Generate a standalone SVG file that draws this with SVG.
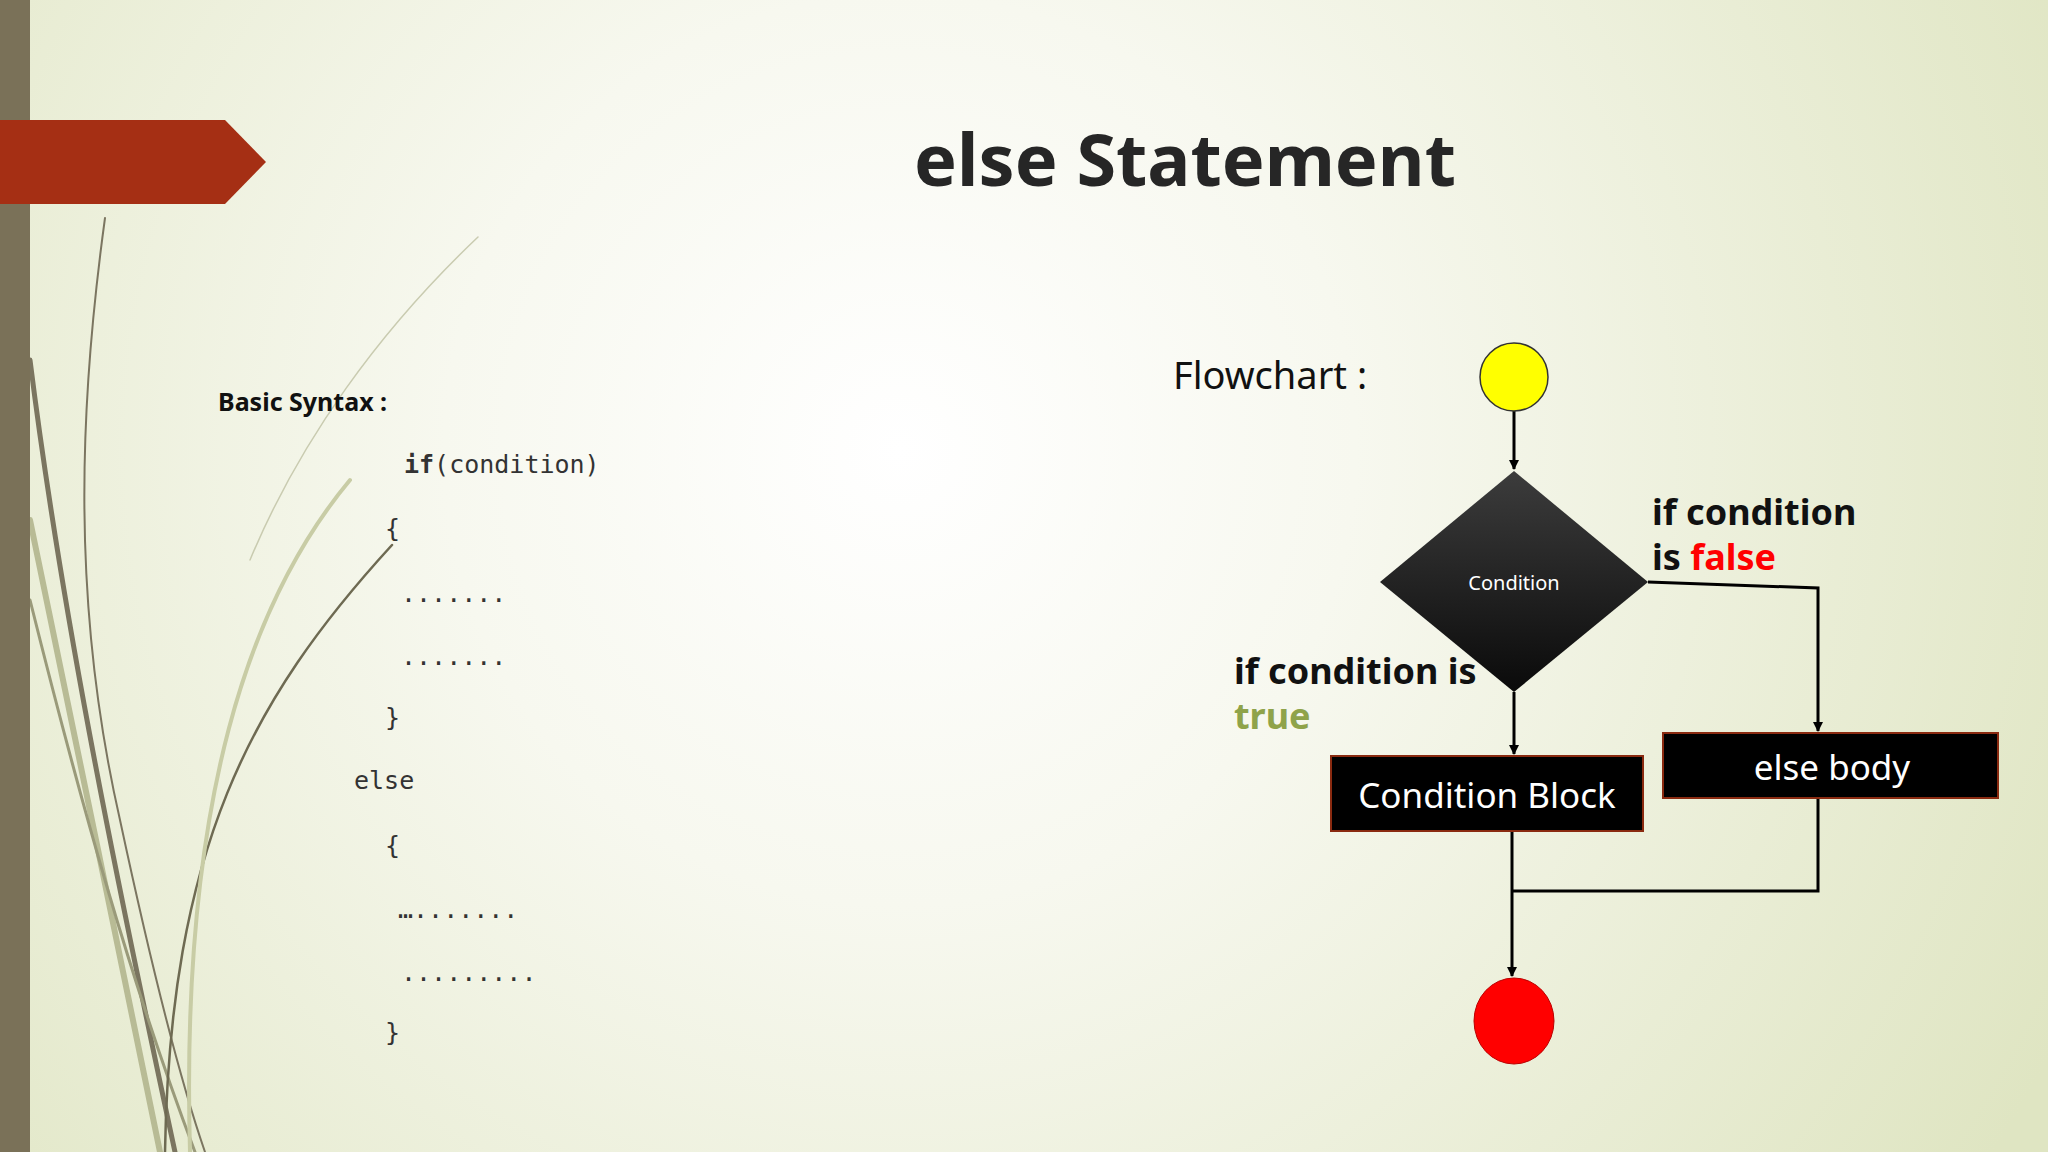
<svg xmlns="http://www.w3.org/2000/svg" width="2048" height="1152" viewBox="0 0 2048 1152">
<defs>
<radialGradient id="bg" cx="900" cy="450" r="1300" gradientUnits="userSpaceOnUse">
<stop offset="0" stop-color="#ffffff"/><stop offset="0.35" stop-color="#f7f8ef"/><stop offset="1" stop-color="#dfe5c2"/>
</radialGradient>
<linearGradient id="dia" x1="0" y1="0" x2="0" y2="1"><stop offset="0" stop-color="#3c3c3c"/><stop offset="1" stop-color="#0a0a0a"/></linearGradient>
<marker id="ah" markerWidth="10" markerHeight="10" refX="9" refY="5" orient="auto" markerUnits="userSpaceOnUse"><path d="M0,0 L10,5 L0,10 z" fill="#000"/></marker>
<style>
.code{font-family:"DejaVu Sans Mono","Liberation Mono",monospace;font-size:25px;fill:#333}
.lbl{font-family:"Noto Sans","Liberation Sans",sans-serif;font-weight:bold;font-size:36px;fill:#111}
.box{fill:#000;stroke:#8a2a10;stroke-width:2}
.bt{font-family:"Noto Sans","Liberation Sans",sans-serif;font-size:35px;fill:#fff;text-anchor:middle}
.ln{fill:none;stroke:#000;stroke-width:3}
.cv{fill:none;stroke-linecap:round}
</style>
</defs>
<rect width="2048" height="1152" fill="url(#bg)"/>
<g id="decor">
<path class="cv" d="M105,218 C80,400 70,600 120,820 C150,960 180,1080 205,1152" stroke="#7b7560" stroke-width="2"/>
<path class="cv" d="M30,360 C60,600 110,850 175,1152" stroke="#7b7560" stroke-width="5"/>
<path class="cv" d="M30,520 C70,720 120,950 160,1152" stroke="#b8bb95" stroke-width="6"/>
<path class="cv" d="M30,600 C80,800 130,980 195,1152" stroke="#9a9a7a" stroke-width="3"/>
<path class="cv" d="M478,237 C380,330 300,440 250,560" stroke="#c9cbb0" stroke-width="1.5"/>
<path class="cv" d="M392,545 C250,700 170,850 165,1152" stroke="#6e6a52" stroke-width="2.5"/>
<path class="cv" d="M350,480 C250,600 180,800 190,1152" stroke="#c8cca5" stroke-width="4"/>
</g>
<rect x="0" y="0" width="30" height="1152" fill="#7a7158"/>
<path d="M0,120 L225,120 L266,162 L225,204 L0,204 z" fill="#a52f14"/>
<text x="1185" y="186" text-anchor="middle" font-family="Noto Sans,Liberation Sans,sans-serif" font-weight="bold" font-size="72" fill="#262626">else Statement</text>
<text x="218" y="411" font-family="Noto Sans,Liberation Sans,sans-serif" font-weight="bold" font-size="25" fill="#111">Basic Syntax :</text>
<g id="code">
<text class="code" x="404" y="473"><tspan font-weight="bold">if</tspan>(condition)</text>
<text class="code" x="385" y="537">{</text>
<text class="code" x="401" y="602">.......</text>
<text class="code" x="401" y="665">.......</text>
<text class="code" x="385" y="726">}</text>
<text class="code" x="354" y="789">else</text>
<text class="code" x="385" y="854">{</text>
<text class="code" x="398" y="918">….......</text>
<text class="code" x="401" y="981">.........</text>
<text class="code" x="385" y="1041">}</text>
</g>
<text x="1173" y="389" font-family="Noto Sans,Liberation Sans,sans-serif" font-size="38" fill="#111">Flowchart :</text>
<g id="connectors">
<path class="ln" d="M1514,411 L1514,469" marker-end="url(#ah)"/>
<path class="ln" d="M1514,692 L1514,754" marker-end="url(#ah)"/>
<path class="ln" d="M1648,582 L1818,588 L1818,731" marker-end="url(#ah)"/>
<path class="ln" d="M1818,798 L1818,891 L1512,891"/>
<path class="ln" d="M1512,831 L1512,976" marker-end="url(#ah)"/>
</g>
<g id="start"><circle cx="1514" cy="377" r="34" fill="#ffff00" stroke="#333" stroke-width="1.5"/></g>
<g id="condition"><path d="M1514,471 L1648,582 L1514,692 L1380,582 z" fill="url(#dia)"/>
<text x="1514" y="590" text-anchor="middle" font-family="Noto Sans,Liberation Sans,sans-serif" font-size="20" fill="#fff">Condition</text></g>
<g id="block"><rect class="box" x="1331" y="756" width="312" height="75"/><text class="bt" x="1487" y="808">Condition  Block</text></g>
<g id="elsebody"><rect class="box" x="1663" y="733" width="335" height="65"/><text class="bt" x="1832" y="780">else body</text></g>
<g id="end"><ellipse cx="1514" cy="1021" rx="40" ry="43" fill="#ff0000" stroke="#b00" stroke-width="1"/></g>
<text class="lbl" x="1652" y="525">if condition</text>
<text class="lbl" x="1652" y="570">is <tspan style="fill:#ff0000">false</tspan></text>
<text class="lbl" x="1234" y="684">if condition is</text>
<text class="lbl" x="1234" y="729" style="fill:#8fa34a">true</text>
</svg>
